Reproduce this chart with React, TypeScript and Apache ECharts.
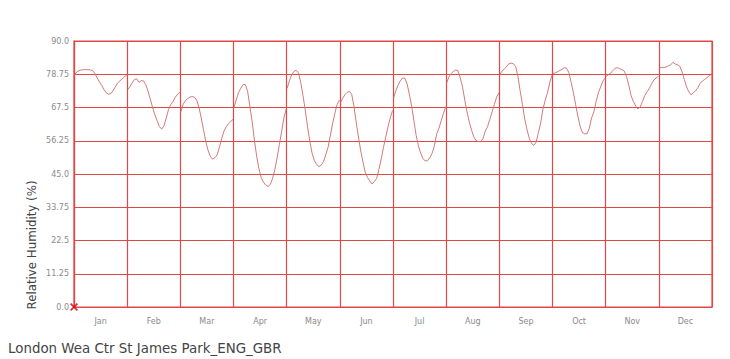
import React, { useEffect, useRef } from "react";
import * as echarts from "echarts";

const months = ["Jan", "Feb", "Mar", "Apr", "May", "Jun", "Jul", "Aug", "Sep", "Oct", "Nov", "Dec"];
const yTickLabels = ["0.0", "11.25", "22.5", "33.75", "45.0", "56.25", "67.5", "78.75", "90.0"];

// Average hourly relative humidity (%) for each month, hours 0..23
const jan = [78.5, 79.5, 80.0, 80.2, 80.3, 80.3, 80.3, 80.2, 80.0, 79.0, 77.5, 76.2, 75.0, 73.5, 72.5, 72.0, 72.2, 73.2, 74.5, 75.8, 76.5, 77.2, 77.8, 78.6];
const feb = [73.5, 74.5, 75.8, 77.0, 77.2, 76.0, 76.6, 76.5, 75.2, 73.0, 70.3, 67.5, 65.0, 63.0, 61.0, 60.2, 61.3, 64.0, 66.8, 68.5, 69.5, 71.0, 72.0, 72.6];
const mar = [66.0, 68.5, 69.8, 70.5, 71.0, 71.2, 71.0, 70.0, 67.5, 64.0, 60.0, 56.0, 53.0, 51.0, 50.0, 50.5, 51.5, 54.0, 57.0, 59.5, 61.0, 62.0, 62.8, 63.5];
const apr = [67.5, 70.0, 72.5, 74.0, 75.2, 75.3, 73.0, 68.0, 62.8, 56.5, 51.0, 46.8, 43.8, 42.2, 41.2, 40.8, 41.5, 43.5, 46.5, 50.5, 55.0, 59.5, 64.0, 67.0];
const may = [74.0, 76.5, 78.5, 79.7, 80.1, 79.2, 76.0, 71.5, 66.5, 61.0, 56.0, 52.0, 49.5, 48.2, 47.5, 48.0, 49.2, 51.5, 54.0, 58.0, 62.0, 65.5, 68.5, 70.0];
const jun = [69.0, 70.5, 71.8, 72.6, 73.0, 72.0, 68.0, 62.5, 57.5, 52.8, 49.0, 45.5, 43.8, 42.6, 41.6, 42.5, 43.5, 46.5, 50.0, 54.0, 57.5, 61.0, 64.0, 66.5];
const jul = [70.6, 73.0, 75.0, 76.5, 77.5, 77.4, 75.5, 72.0, 68.0, 63.0, 58.0, 54.5, 52.0, 50.2, 49.4, 49.5, 50.5, 52.0, 54.5, 58.5, 60.5, 63.0, 65.5, 67.8];
const aug = [75.7, 77.8, 79.0, 79.7, 80.2, 80.0, 77.5, 74.5, 70.0, 66.0, 62.5, 59.8, 57.5, 56.3, 56.0, 55.9, 57.0, 59.5, 61.0, 63.5, 66.0, 68.5, 71.0, 72.5];
const sep = [78.7, 79.8, 80.6, 81.3, 82.3, 82.5, 82.3, 81.3, 78.0, 73.0, 68.4, 63.5, 60.0, 57.0, 55.3, 54.7, 55.8, 59.0, 62.3, 67.0, 70.0, 72.5, 76.0, 78.5];
const oct = [79.0, 79.2, 79.6, 80.0, 80.4, 81.0, 80.8, 79.3, 76.0, 72.5, 68.4, 64.5, 61.0, 59.0, 58.6, 58.6, 60.5, 64.0, 66.0, 69.5, 72.5, 74.5, 76.5, 77.5];
const nov = [78.0, 78.6, 79.1, 80.0, 80.8, 81.0, 80.6, 80.3, 79.8, 78.0, 75.0, 71.5, 69.5, 68.0, 67.0, 67.7, 69.5, 71.5, 72.8, 74.0, 75.5, 76.8, 77.5, 78.0];
const dec = [81.0, 81.0, 81.0, 81.2, 81.6, 81.9, 82.8, 82.2, 82.0, 81.5, 79.6, 77.0, 74.5, 72.8, 71.8, 72.5, 73.2, 74.2, 75.7, 76.5, 77.0, 77.6, 78.3, 78.7];

const monthly = [jan, feb, mar, apr, may, jun, jul, aug, sep, oct, nov, dec];

const RED = "#e04848";
const TITLE = "London Wea Ctr St James Park_ENG_GBR";
const Y_NAME = "Relative Humidity (%)";

export default function App() {
  const ref = useRef<HTMLDivElement>(null);
  useEffect(() => {
    if (!ref.current) return;
    const chart = echarts.init(ref.current, undefined, { renderer: "svg" });
    const lineData: any[] = [];
    monthly.forEach((vals, m) => {
      vals.forEach((v, h) => {
        lineData.push([m * 24 + 0.2 + (h * 23.6) / 23, v]);
      });
      lineData.push([m * 24 + 23.9, null]);
    });
    chart.setOption({
      animation: false,
      backgroundColor: "#ffffff",
      grid: {
        left: 74,
        right: 18,
        top: 41,
        bottom: 52,
        show: true,
        borderColor: RED,
        borderWidth: 1.2,
        backgroundColor: "transparent",
      },
      xAxis: [
        {
          type: "category",
          data: months,
          boundaryGap: true,
          axisLine: { show: true, lineStyle: { color: RED, width: 1.2 } },
          axisTick: { show: false },
          axisLabel: {
            color: "#8a8a8a",
            fontSize: 8,
            fontFamily: "DejaVu Sans",
            margin: 10,
          },
          splitLine: { show: false },
        },
        {
          type: "value",
          min: 0,
          max: 288,
          interval: 24,
          position: "bottom",
          axisLine: { show: false },
          axisTick: { show: false },
          axisLabel: { show: false },
          splitLine: { show: true, lineStyle: { color: RED, width: 1.2 } },
        },
      ],
      yAxis: {
        type: "value",
        min: 0,
        max: 90,
        interval: 11.25,
        axisLine: { show: true, lineStyle: { color: RED, width: 1.2 } },
        axisTick: { show: false },
        axisLabel: {
          color: "#8a8a8a",
          fontSize: 8,
          fontFamily: "DejaVu Sans",
          margin: 5,
          formatter: (v: number) => yTickLabels[Math.round(v / 11.25)] ?? String(v),
        },
        splitLine: { show: true, lineStyle: { color: RED, width: 1.2 } },
      },
      series: [
        {
          type: "line",
          xAxisIndex: 1,
          data: lineData,
          showSymbol: false,
          connectNulls: false,
          lineStyle: { color: "#cf6a6a", width: 0.9 },
          silent: true,
        },
        {
          type: "scatter",
          xAxisIndex: 1,
          data: [[0, 0]],
          symbol: "path://M0,1.5 L1.5,0 L5,3.5 L8.5,0 L10,1.5 L6.5,5 L10,8.5 L8.5,10 L5,6.5 L1.5,10 L0,8.5 L3.5,5 Z",
          symbolSize: 8,
          itemStyle: { color: "#cc0000" },
          clip: false,
          z: 5,
        },
      ],
      graphic: [
        {
          type: "text",
          x: 32,
          y: 245,
          rotation: Math.PI / 2,
          style: {
            text: Y_NAME,
            fill: "#444444",
            fontSize: 11.8,
            fontFamily: "DejaVu Sans",
            align: "center",
            verticalAlign: "middle",
          },
        },
        {
          type: "text",
          x: 8,
          y: 348,
          style: {
            text: TITLE,
            fill: "#444444",
            fontSize: 13.4,
            fontFamily: "DejaVu Sans",
            align: "left",
            verticalAlign: "middle",
          },
        },
      ],
    });
    return () => chart.dispose();
  }, []);
  return <div ref={ref} style={{ width: 730, height: 359, position: "absolute", left: 0, top: 0 }} />;
}
